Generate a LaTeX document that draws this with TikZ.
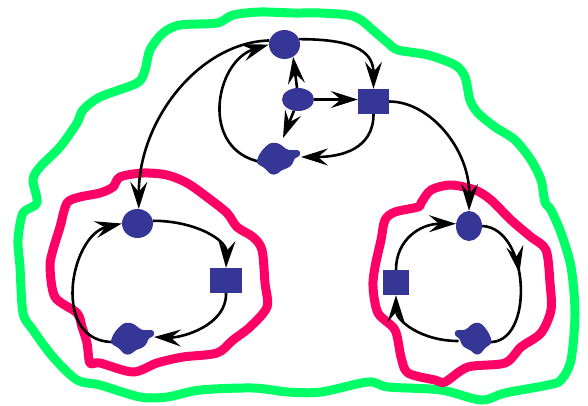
\documentclass[tikz,border=0pt]{standalone}
\usetikzlibrary{shapes.geometric,arrows.meta,calc,decorations.markings}
\definecolor{nodeblue}{RGB}{54,54,150}
\definecolor{hullgreen}{RGB}{0,255,102}
\definecolor{hullpink}{RGB}{255,0,102}
\pgfdeclarelayer{bg}
\pgfsetlayers{bg,main}
\tikzset{
  dot/.style={ellipse, fill=nodeblue, inner sep=0pt},
  sq/.style={rectangle, fill=nodeblue, inner sep=0pt},
  conn/.style={line width=2.6pt, -{Stealth[length=27pt,width=17pt,inset=10pt]}},
  plainconn/.style={line width=2.6pt},
  midarrow/.style={postaction={decorate}, decoration={markings,
      mark=at position #1 with {\arrow{Stealth[length=27pt,width=17pt,inset=10pt]}}}},
  hull/.style={line width=9pt, line join=round, line cap=round},
  blobshape/.pic={\fill[nodeblue, rounded corners=2.5pt]
    (-20.5,2.3) -- (-17.5,-5) -- (-12.5,-11.5) -- (-7,-16) -- (-2,-16.5) -- (3,-15)
    -- (6.5,-12) -- (11.3,-8.8) -- (23,-8.8) -- (23,-2.5) -- (18,-1.5) -- (15,6)
    -- (10,9.5) -- (4.7,11) -- (-0.3,15.5) -- (-6.5,15.5) -- (-10.5,11) -- (-14,7.8)
    -- (-19,5.5) -- cycle;}
}
\begin{document}
\begin{tikzpicture}[x=1pt,y=-1pt]
\useasboundingbox (0,0) rectangle (588,405);

% nodes
\node[dot, minimum width=31pt, minimum height=29pt] (T) at (284.5,44.5) {};
\node[dot, minimum width=32pt, minimum height=23pt] (E) at (298,99.5) {};
\node[sq, minimum width=31pt, minimum height=25pt] (S) at (373.5,101.5) {};
\coordinate (B) at (277,159);
\node[dot, minimum width=31pt, minimum height=29pt] (L) at (137.5,223.5) {};
\node[sq, minimum width=32pt, minimum height=25pt] (LS) at (226,280.5) {};
\coordinate (LB) at (131,339);
\node[dot, minimum width=26pt, minimum height=30pt] (R) at (469,226) {};
\node[sq, minimum width=26pt, minimum height=25pt] (RS) at (396,282.5) {};
\coordinate (RB) at (474.5,339);

\pic at (B) {blobshape};
\pic at (LB) {blobshape};
\pic[xscale=-0.85] at (RB) {blobshape};

\coordinate (Btop) at ($(B)+(6,-21)$);
\coordinate (Be) at ($(B)+(24,-2)$);
\coordinate (Bw) at ($(B)+(-16,3)$);
\coordinate (LBe) at ($(LB)+(23,-2)$);
\coordinate (LBw) at ($(LB)+(-16,3)$);
\coordinate (RBe) at ($(RB)+(14,3)$);
\coordinate (RBw) at ($(RB)+(-16,2)$);

\begin{pgfonlayer}{bg}
% hulls
\draw[hull, hullgreen] plot[smooth cycle, tension=0.5] coordinates {
 (163,33) (180,25) (217,23) (233,15) (260,12) (293,13) (320,13) (348,15) (361,20)
 (375,32) (388,43) (398,50) (428,55) (455,65) (465,77) (470,100) (478,113) (495,127)
 (515,140) (531,160) (541,180) (545,202) (551,210) (561,233) (571,267) (575,313)
 (571,360) (561,380) (548,385) (505,393) (481,400) (441,390) (388,387) (368,382)
 (321,392) (288,392) (253,388) (200,390) (167,397) (140,397) (100,385) (77,380)
 (53,357) (33,330) (23,313) (20,267) (18,240) (23,213) (37,203) (33,180) (40,167)
 (60,147) (77,123) (83,110) (100,97) (137,83) (145,70) (150,50)};
\draw[hull, hullpink] plot[smooth cycle, tension=0.5] coordinates {
 (67,203) (80,197) (100,193) (113,187) (120,177) (143,173) (167,175) (187,183)
 (207,197) (227,213) (237,227) (253,237) (262,250) (265,283) (267,307) (250,327)
 (233,340) (217,353) (183,357) (157,363) (133,372) (100,363) (90,363) (87,343)
 (82,327) (77,313) (55,297) (50,267) (53,250) (60,227)};
\draw[hull, hullpink] plot[smooth cycle, tension=0.5] coordinates {
 (421,203) (431,190) (451,185) (475,190) (491,200) (511,220) (531,237) (546,250)
 (550,283) (551,310) (541,333) (521,347) (505,363) (468,367) (445,382) (435,380)
 (408,373) (401,357) (395,330) (378,313) (373,287) (375,267) (381,240) (385,220)
 (395,212) (418,207)};

% top cluster
\draw[conn] (T.20) .. controls +(50,0) and +(0,-40) .. (S.north);
\draw[conn] (S.south) .. controls +(0,35) and +(40,0) .. (Be);
\draw[conn] (Bw) .. controls +(-62,-12) and +(-54,17) .. (T.west);
\draw[conn] (E.95) -- (T.-55);
\draw[conn] (E.-110) -- (Btop);
\draw[conn] (E) -- (S.west |- E);
% between clusters
\draw[conn] (T.165) .. controls +(-70,2) and +(0,-89) .. (L.85);
\draw[conn] (S.east) .. controls +(41,0) and +(1,-61) .. (R.north);
% left cluster
\draw[conn] (L.10) .. controls +(42,0) and +(1,-28) .. (LS.north);
\draw[conn] (LS.south) .. controls +(1,32) and +(28,1) .. (LBe);
\draw[conn] (LBw) .. controls +(-65,2) and +(-52,12) .. (L.west);
% right cluster
\draw[conn] (RS.north) .. controls +(0,-30) and +(-36,0) .. (R.170);
\draw[plainconn, midarrow=0.43] (R.east) .. controls +(48,2) and +(46.5,3) .. (RBe);
\draw[conn] (RBw) .. controls +(-38,0) and +(0,25) .. (RS.south);
\end{pgfonlayer}
\end{tikzpicture}
\end{document}
